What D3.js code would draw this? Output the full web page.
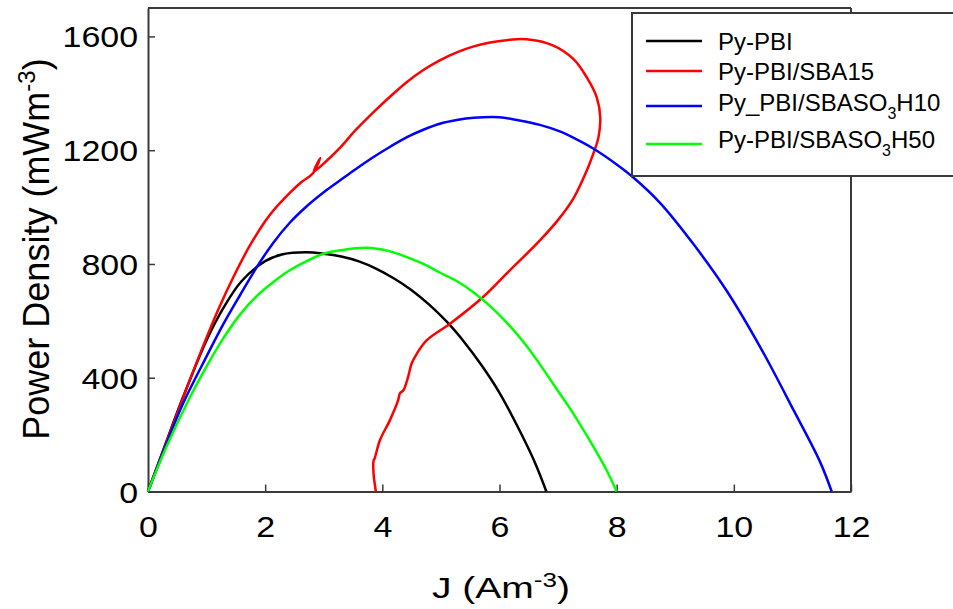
<!DOCTYPE html>
<html>
<head>
<meta charset="utf-8">
<script src="https://cdn.jsdelivr.net/npm/d3@7"></script>
<style>
  body { margin: 0; background: #fff; }
  text { font-family: "Liberation Sans", Arial, sans-serif; fill: #000; }
</style>
</head>
<body>
<div id="chart"></div>
<script>
const WIDTH = 953;
const HEIGHT = 609;
const margin = { top: 8, right: 102, bottom: 117.5, left: 148 };

// tick labels
const xTicks = [0, 2, 4, 6, 8, 10, 12];
const yTicks = [0, 400, 800, 1200, 1600];

// Py-PBI
const pyX = [0, 0.3, 0.6, 1.0, 1.3, 1.6, 2.0, 2.3, 2.7, 3.0, 3.3, 3.6, 3.9, 4.2, 4.5, 4.8, 5.1, 5.4, 5.7, 6.0, 6.3, 6.6, 6.8];
const pyY = [0, 168, 333, 532, 650, 740, 810, 834, 841, 836, 826, 809, 783, 749, 708, 657, 597, 525, 442, 347, 232, 104, 0];

// Py-PBI/SBA15 (loop, points in measured order)
const sbaX = [0, 0.3, 0.6, 0.9, 1.2, 1.46, 1.74, 2.0, 2.14, 2.42, 2.62, 2.82, 2.94, 2.83, 3.05, 3.28, 3.55, 3.85, 4.13, 4.42, 4.7, 4.98, 5.27, 5.56, 5.84, 6.12, 6.46, 6.92, 7.26, 7.49, 7.66, 7.72, 7.69, 7.60, 7.49, 7.26, 7.0, 6.69, 6.12, 5.72, 5.16, 4.76, 4.59, 4.50, 4.44, 4.36, 4.30, 4.27, 4.13, 3.96, 3.87, 3.85, 3.85, 3.89];
const sbaY = [0, 165, 330, 490, 640, 755, 865, 950, 988, 1050, 1088, 1120, 1173, 1125, 1163, 1209, 1272, 1334, 1388, 1440, 1482, 1516, 1544, 1565, 1579, 1587, 1590, 1568, 1521, 1456, 1386, 1316, 1246, 1187, 1129, 1030, 955, 883, 766, 684, 591, 532, 485, 450, 403, 356, 345, 321, 251, 181, 117, 108, 64, 0];

// Py_PBI/SBASO3H10
const h10X = [0, 0.3, 0.6, 1.0, 1.29, 1.57, 1.86, 2.14, 2.42, 2.71, 3.0, 3.28, 3.55, 3.85, 4.14, 4.42, 4.7, 4.98, 5.27, 5.56, 6.0, 6.3, 6.69, 7.03, 7.3, 7.6, 8.0, 8.28, 8.74, 9.31, 9.88, 10.45, 11.02, 11.47, 11.67];
const h10Y = [0, 160, 310, 475, 590, 690, 790, 875, 945, 1003, 1052, 1094, 1134, 1176, 1213, 1246, 1272, 1293, 1306, 1314, 1316, 1306, 1289, 1266, 1240, 1206, 1150, 1105, 1015, 870, 705, 508, 286, 105, 0];

// Py-PBI/SBASO3H50
const h50X = [0, 0.3, 0.72, 1.0, 1.29, 1.57, 1.86, 2.14, 2.42, 2.71, 2.99, 3.28, 3.73, 4.1, 4.42, 4.7, 4.98, 5.27, 5.56, 5.84, 6.12, 6.4, 6.69, 6.97, 7.26, 7.55, 7.83, 8.0];
const h50Y = [0, 150, 333, 440, 540, 622, 688, 737, 778, 810, 836, 848, 857, 846, 824, 800, 770, 740, 700, 652, 595, 528, 447, 362, 274, 176, 74, 0];

const series = [
    { name: 'Py-PBI', x: pyX, y: pyY, color: '#000000' },
    { name: 'Py-PBI/SBA15', x: sbaX, y: sbaY, color: '#ff0000' },
    { name: 'Py_PBI/SBASO3H10', x: h10X, y: h10Y, color: '#0000ff' },
    { name: 'Py-PBI/SBASO3H50', x: h50X, y: h50Y, color: '#00ff00' }
];

const innerW = WIDTH - margin.left - margin.right;
const innerH = HEIGHT - margin.top - margin.bottom;

const svg = d3.select('#chart')
    .append('svg')
    .attr('width', WIDTH)
    .attr('height', HEIGHT);

const g = svg.append('g')
    .attr('transform', `translate(${margin.left},${margin.top})`);

const x = d3.scaleLinear().domain([0, 12]).range([0, innerW]);
const y = d3.scaleLinear().domain([0, 1700]).range([innerH, 0]);

const AXIS_COLOR = '#3a3a3a';

// frame top and right
g.append('line')
    .attr('x1', 0).attr('x2', innerW).attr('y1', 0).attr('y2', 0)
    .attr('stroke', AXIS_COLOR).attr('stroke-width', 2);
g.append('line')
    .attr('x1', innerW).attr('x2', innerW).attr('y1', 0).attr('y2', innerH)
    .attr('stroke', AXIS_COLOR).attr('stroke-width', 2);

// x axis
const xAxis = g.append('g')
    .attr('transform', `translate(0,${innerH})`)
    .call(d3.axisBottom(x).tickValues(xTicks).tickSizeInner(-7).tickSizeOuter(0).tickFormat(d3.format('d')));
xAxis.selectAll('text')
    .attr('y', 45.5).attr('dy', 0)
    .attr('font-size', 29)
    .attr('transform', 'scale(1.17,1)');

// y axis
const yAxis = g.append('g')
    .call(d3.axisLeft(y).tickValues(yTicks).tickSizeInner(-7).tickSizeOuter(0).tickFormat(d3.format('d')));
yAxis.selectAll('text')
    .attr('x', 0).attr('dy', 0).attr('y', 10.5)
    .attr('font-size', 29)
    .attr('transform', 'translate(-10,0) scale(1.17,1)');

[xAxis, yAxis].forEach(a => {
    a.select('.domain').attr('stroke', AXIS_COLOR).attr('stroke-width', 2);
    a.selectAll('.tick line').attr('stroke', AXIS_COLOR).attr('stroke-width', 1.5);
    a.selectAll('.tick text').attr('fill', '#000');
});

// curves
const line = d3.line()
    .x(d => x(d[0]))
    .y(d => y(d[1]))
    .curve(d3.curveCatmullRom.alpha(0.5));

series.forEach(s => {
    const pts = s.x.map((v, i) => [v, s.y[i]]);
    g.append('path')
        .datum(pts)
        .attr('d', line)
        .attr('fill', 'none')
        .attr('stroke', s.color)
        .attr('stroke-width', 2.5)
        .attr('stroke-linejoin', 'round');
});

// axis titles
const xTitle = svg.append('text')
    .attr('transform', 'translate(432,598) scale(1.3,1)')
    .attr('font-size', 30);
xTitle.append('tspan').text('J (Am');
xTitle.append('tspan').attr('font-size', 20).attr('dy', -11).text('-3');
xTitle.append('tspan').attr('dy', 11).text(')');

const yTitle = svg.append('text')
    .attr('transform', 'translate(49,249) rotate(-90)')
    .attr('text-anchor', 'middle')
    .attr('font-size', 36);
yTitle.append('tspan').text('Power Density (mWm');
yTitle.append('tspan').attr('font-size', 24).attr('dy', -14).text('-3');
yTitle.append('tspan').attr('dy', 14).text(')');

// legend
const legend = svg.append('g');
legend.append('rect')
    .attr('x', 632).attr('y', 13)
    .attr('width', 340).attr('height', 163)
    .attr('fill', '#fff')
    .attr('stroke', AXIS_COLOR)
    .attr('stroke-width', 2);

const legendLineY = [41, 71, 106, 144];
const legendTextY = [50, 80, 111, 148];

series.forEach((s, i) => {
    legend.append('line')
        .attr('x1', 646).attr('x2', 702)
        .attr('y1', legendLineY[i]).attr('y2', legendLineY[i])
        .attr('stroke', s.color)
        .attr('stroke-width', 2.5);
    const t = legend.append('text')
        .attr('x', 718).attr('y', legendTextY[i])
        .attr('font-size', 24);
    const m = s.name.match(/^(.*SO)3(H\d+)$/);
    if (m) {
        t.append('tspan').text(m[1]);
        t.append('tspan').attr('font-size', 16).attr('dy', 8).text('3');
        t.append('tspan').attr('dy', -8).text(m[2]);
    } else {
        t.text(s.name);
    }
});
</script>
</body>
</html>
